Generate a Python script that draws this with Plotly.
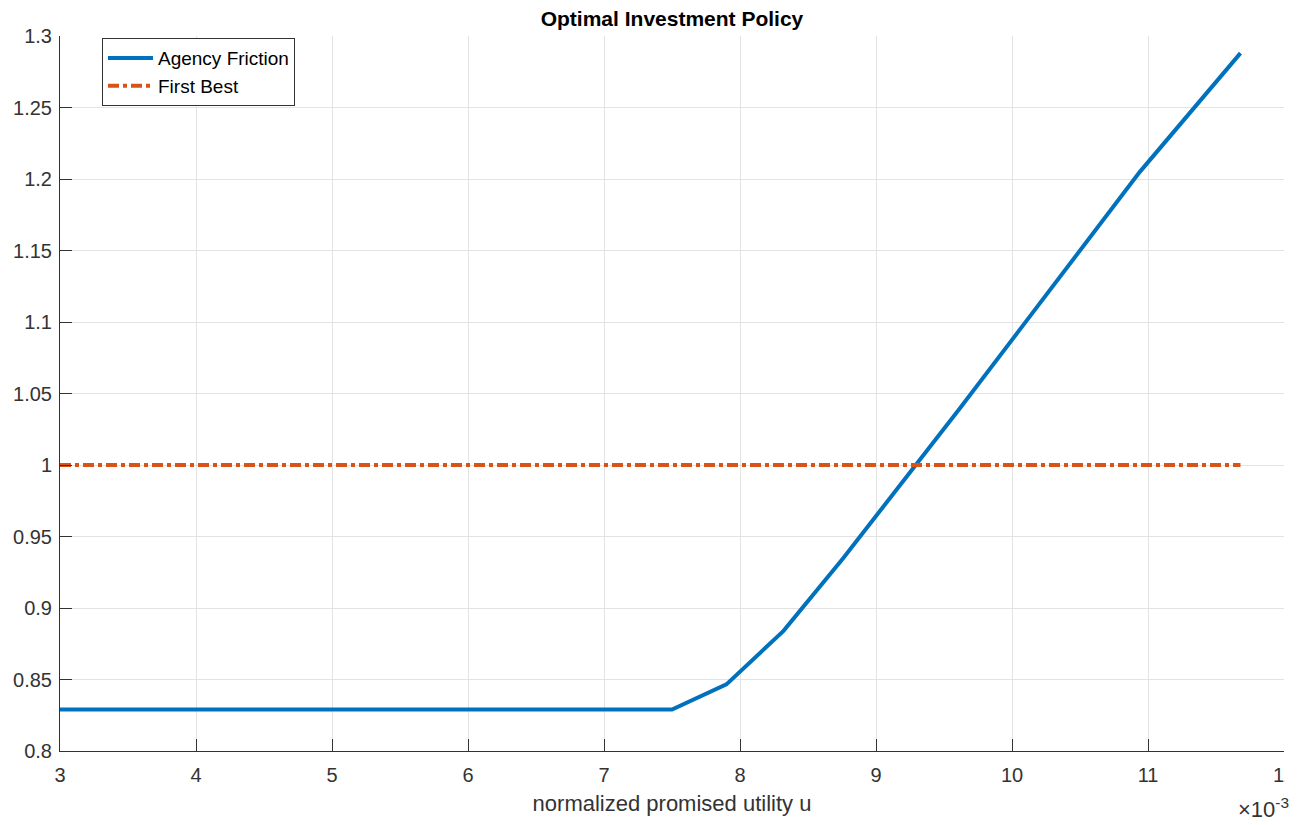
import plotly.graph_objects as go

# promised utility u, in units of 1e-3
u_agency = [3.0, 7.50, 7.90, 8.32, 8.76, 9.19, 9.62, 10.06, 10.50, 10.94, 11.68]
inv_agency = [0.829, 0.829, 0.8466, 0.884, 0.935, 0.987, 1.040, 1.095, 1.150, 1.205, 1.288]

u_first_best = [3.0, 11.68]
inv_first_best = [1.0, 1.0]

x_ticks = [3, 4, 5, 6, 7, 8, 9, 10, 11, 12]
y_ticks = [0.8, 0.85, 0.9, 0.95, 1.0, 1.05, 1.1, 1.15, 1.2, 1.25, 1.3]
y_tick_text = ["0.8", "0.85", "0.9", "0.95", "1", "1.05", "1.1", "1.15", "1.2", "1.25", "1.3"]

BLUE = "#0072BD"
ORANGE = "#D95319"
AXIS = "#333333"
GRID = "#e3e3e3"
FONT = "Liberation Sans, Arial, Helvetica, sans-serif"

fig = go.Figure()
fig.add_trace(go.Scatter(
    x=u_agency, y=inv_agency, mode="lines", name="Agency Friction",
    line=dict(color=BLUE, width=4),
))
fig.add_trace(go.Scatter(
    x=u_first_best, y=inv_first_best, mode="lines", name="First Best",
    line=dict(color=ORANGE, width=4, dash="11px,4px,4px,4px"),
))

axis_common = dict(
    showline=True, linecolor=AXIS, linewidth=1,
    ticks="inside", ticklen=12, tickcolor=AXIS, tickwidth=1,
    showgrid=True, gridcolor=GRID, gridwidth=1,
    zeroline=False, mirror=False, automargin=False,
    tickfont=dict(family=FONT, size=20, color=AXIS),
)

fig.update_xaxes(
    range=[3, 12], tickvals=x_ticks, ticktext=[str(t) for t in x_ticks],
    ticklabelstandoff=6,
    title=dict(text="normalized promised utility u", font=dict(family=FONT, size=22, color=AXIS), standoff=10),
    **axis_common,
)
fig.update_yaxes(
    range=[0.8, 1.3], tickvals=y_ticks, ticktext=y_tick_text,
    ticklabelstandoff=3,
    **axis_common,
)

# exponent multiplier for the x axis
fig.add_annotation(
    xref="paper", yref="paper", x=1.0, y=-0.08, xanchor="right", yanchor="middle",
    text="×10<sup>-3</sup>", showarrow=False,
    font=dict(family=FONT, size=22, color=AXIS), xshift=7,
)

# trim of the right-hand border
fig.add_shape(
    type="rect", xref="paper", yref="paper", layer="above",
    x0=1.0008, x1=1.2, y0=-0.2, y1=1.1,
    fillcolor="white", line=dict(width=0),
)

fig.update_layout(
    width=1301, height=825,
    margin=dict(l=60, r=17, t=36, b=74),
    paper_bgcolor="white", plot_bgcolor="white",
    title=dict(
        text="<b>Optimal Investment Policy</b>", x=672 / 1301, xanchor="center",
        y=1 - 19 / 825, yanchor="middle",
        font=dict(family=FONT, size=21, color="black"),
    ),
    legend=dict(
        x=0.0343, y=0.997, xanchor="left", yanchor="top",
        bgcolor="white", bordercolor=AXIS, borderwidth=1,
        font=dict(family=FONT, size=19, color="black"),
        itemwidth=45, tracegroupgap=0,
    ),
    showlegend=True,
)

fig.write_html("out.html")
